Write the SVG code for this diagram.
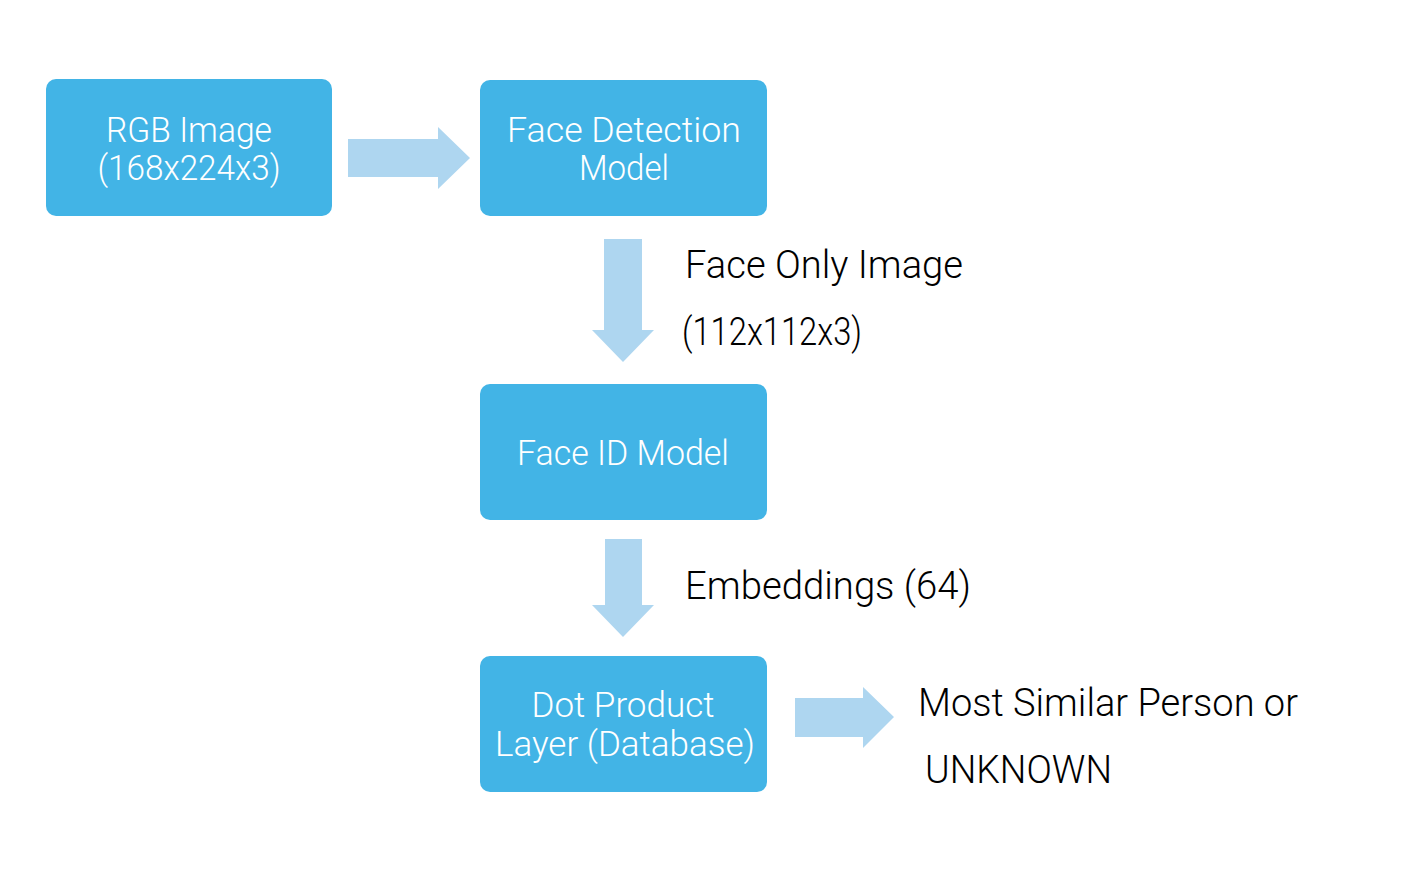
<svg xmlns="http://www.w3.org/2000/svg" width="1404" height="872" viewBox="0 0 1404 872">
<style>
.box{fill:#42B4E6;}
.arrow{fill:#AED6F0;}
.bt{font-family:Roboto,"Liberation Sans",sans-serif;font-weight:300;font-size:35px;fill:#ffffff;text-anchor:middle;}
.lt{font-family:Roboto,"Liberation Sans",sans-serif;font-weight:300;font-size:38px;fill:#000000;}
</style>
<rect width="1404" height="872" fill="#ffffff"/>
<g id="connectors">
<polygon class="arrow" points="348,139 438,139 438,127 470,158 438,189 438,177 348,177"/>
<polygon class="arrow" points="604,239 642,239 642,330 654,330 623,362 592,330 604,330"/>
<polygon class="arrow" points="605,539 642,539 642,605 654,605 623,637 592,605 605,605"/>
<polygon class="arrow" points="795,698 863,698 863,687 894,717 863,748 863,737 795,737"/>
</g>
<g id="rgb">
<rect class="box" x="46" y="79" width="286" height="137" rx="10"/>
<text class="bt" x="189" y="142" textLength="166" lengthAdjust="spacingAndGlyphs">RGB Image</text>
<text class="bt" x="189" y="180" textLength="183" lengthAdjust="spacingAndGlyphs">(168x224x3)</text>
</g>
<g id="facedet">
<rect class="box" x="480" y="80" width="287" height="136" rx="10"/>
<text class="bt" x="624" y="142" textLength="234" lengthAdjust="spacingAndGlyphs">Face Detection</text>
<text class="bt" x="624" y="180" textLength="90" lengthAdjust="spacingAndGlyphs">Model</text>
</g>
<g id="faceid">
<rect class="box" x="480" y="384" width="287" height="136" rx="10"/>
<text class="bt" x="623" y="465" textLength="212" lengthAdjust="spacingAndGlyphs">Face ID Model</text>
</g>
<g id="dot">
<rect class="box" x="480" y="656" width="287" height="136" rx="10"/>
<text class="bt" x="623" y="717" textLength="183" lengthAdjust="spacingAndGlyphs">Dot Product</text>
<text class="bt" x="625" y="756" textLength="260" lengthAdjust="spacingAndGlyphs">Layer (Database)</text>
</g>
<g id="labels">
<text class="lt" x="685" y="278" textLength="278" lengthAdjust="spacingAndGlyphs">Face Only Image</text>
<text class="lt" x="682" y="345" textLength="180" lengthAdjust="spacingAndGlyphs">(112x112x3)</text>
<text class="lt" x="685" y="599" textLength="286" lengthAdjust="spacingAndGlyphs">Embeddings (64)</text>
<text class="lt" x="918" y="716" textLength="380" lengthAdjust="spacingAndGlyphs">Most Similar Person or</text>
<text class="lt" x="925" y="783" textLength="187" lengthAdjust="spacingAndGlyphs">UNKNOWN</text>
</g>
</svg>
